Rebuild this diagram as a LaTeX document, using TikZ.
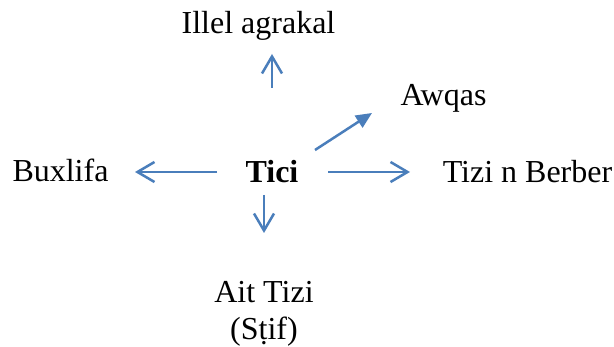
\documentclass[tikz,border=0pt]{standalone}
\usepackage{fontspec}
\setmainfont{Liberation Serif}
\usetikzlibrary{arrows.meta}
\definecolor{arrowblue}{HTML}{4A7EBB}
\tikzset{
  lbl/.style={inner sep=0pt, anchor=base, font=\fontsize{32}{36}\selectfont},
  openarr/.style={draw=arrowblue, line width=2.5pt, -{Straight Barb[length=17pt,width=20pt]}},
  fillarr/.style={draw=arrowblue, line width=2.5pt, -{Triangle[length=16pt,width=14pt]}, fill=arrowblue},
}
\begin{document}
\begin{tikzpicture}[x=1pt,y=-1pt]
\useasboundingbox[fill=white] (0,0) rectangle (614,347);
\node[lbl] (illel) at (258.5,34) {Illel agrakal};
\node[lbl] (awqas) at (443.5,106) {Awqas};
\node[lbl] (bux) at (60.5,182) {Buxlifa};
\node[lbl, font=\fontsize{32}{36}\selectfont\bfseries] (tici) at (272,183) {Tici};
\node[lbl] (tizi) at (527.5,183) {Tizi n Berber};
\node[lbl, align=center, font=\fontsize{32}{37}\selectfont] (ait) at (264,340) {Ait Tizi\\(Sṭif)};
% arrow end points
\coordinate (upS) at (272,88);   \coordinate (upE) at (272,54);
\coordinate (dgS) at (315,150);  \coordinate (dgE) at (372,113);
\coordinate (lfS) at (217,172);  \coordinate (lfE) at (135,172);
\coordinate (rtS) at (328,172);  \coordinate (rtE) at (410,172);
\coordinate (dnS) at (264,195);  \coordinate (dnE) at (264,233);
\draw[openarr] (upS) -- (upE);
\draw[fillarr] (dgS) -- (dgE);
\draw[openarr] (lfS) -- (lfE);
\draw[openarr] (rtS) -- (rtE);
\draw[openarr] (dnS) -- (dnE);
\end{tikzpicture}
\end{document}
